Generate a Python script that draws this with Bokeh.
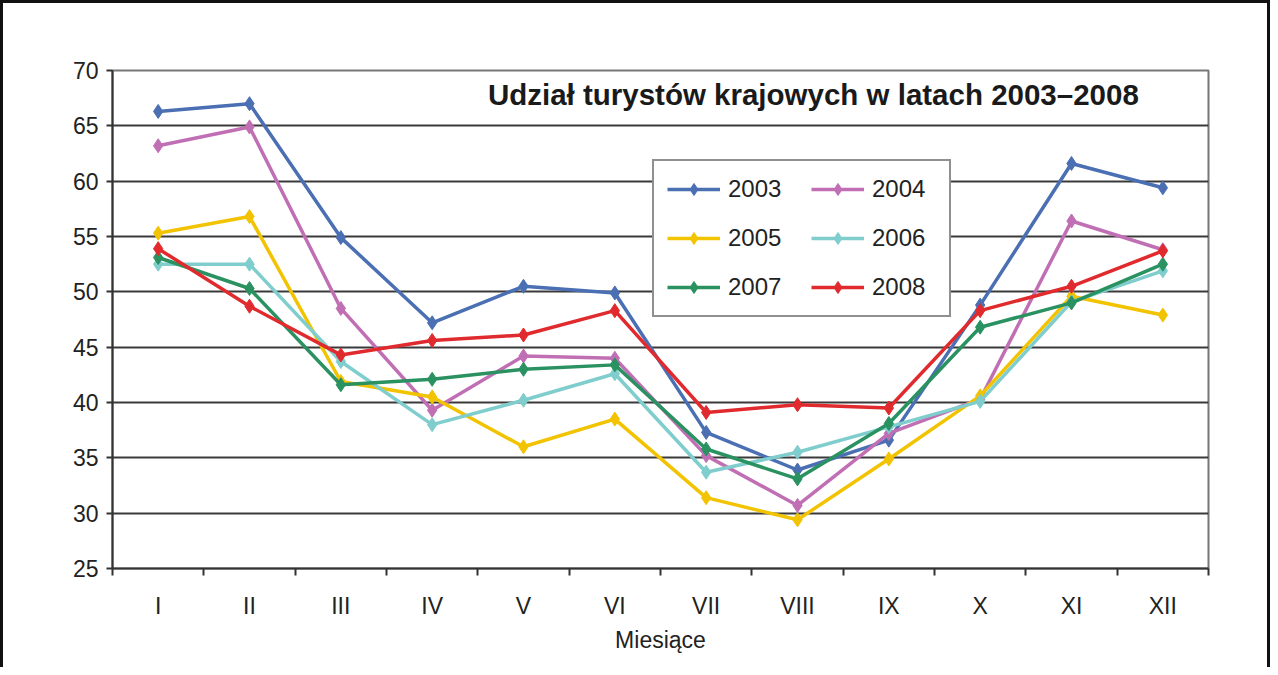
from bokeh.plotting import figure
from bokeh.models import FixedTicker, Legend, LegendItem, Label, Range1d
from bokeh.embed import file_html
from bokeh.resources import INLINE

months = ["I", "II", "III", "IV", "V", "VI", "VII", "VIII", "IX", "X", "XI", "XII"]
years = ["2003", "2004", "2005", "2006", "2007", "2008"]
v2003 = [66.3, 67.0, 54.9, 47.2, 50.5, 49.9, 37.3, 33.9, 36.6, 48.8, 61.6, 59.4]
v2004 = [63.2, 64.9, 48.5, 39.3, 44.2, 44.0, 35.2, 30.7, 37.2, 40.3, 56.4, 53.8]
v2005 = [55.3, 56.8, 41.9, 40.5, 36.0, 38.5, 31.4, 29.4, 34.9, 40.6, 49.6, 47.9]
v2006 = [52.5, 52.5, 43.7, 38.0, 40.2, 42.6, 33.7, 35.5, 37.8, 40.1, 49.1, 51.9]
v2007 = [53.1, 50.3, 41.6, 42.1, 43.0, 43.4, 35.8, 33.1, 38.1, 46.8, 49.0, 52.5]
v2008 = [53.9, 48.7, 44.3, 45.6, 46.1, 48.3, 39.1, 39.8, 39.5, 48.3, 50.5, 53.7]
series = [v2003, v2004, v2005, v2006, v2007, v2008]
colors = ["#4a6fb3", "#c16fb4", "#f2c300", "#7fcdcd", "#2a9161", "#e02a2e"]

title_text = "Udział turystów krajowych w latach 2003–2008"
x_title = "Miesiące"
y_ticks = [25, 30, 35, 40, 45, 50, 55, 60, 65, 70]

FONT = "Liberation Sans"

xs = [i + 0.5 for i in range(len(months))]

p = figure(width=1270, height=667, output_backend="svg", toolbar_location=None,
           x_range=Range1d(0, len(months)), y_range=Range1d(25, 70),
           min_border_left=109, min_border_right=65, min_border_top=67,
           min_border_bottom=102)
p.styles = {"border-left": "3px solid #111", "border-right": "3px solid #111",
            "border-top": "3px solid #111"}

# axes
p.xaxis.ticker = FixedTicker(ticks=xs, minor_ticks=list(range(len(months) + 1)))
p.xaxis.major_label_overrides = {x: m for x, m in zip(xs, months)}
p.xaxis.major_tick_out = 0
p.xaxis.major_tick_in = 0
p.xaxis.minor_tick_out = 7
p.xaxis.minor_tick_in = 0
p.xaxis.minor_tick_line_color = "#333333"
p.xaxis.minor_tick_line_width = 2
p.xaxis.major_label_standoff = 17
p.xaxis.axis_label = x_title
p.xaxis.axis_label_standoff = 5
p.xaxis.axis_label_text_font_style = "normal"

p.yaxis.ticker = FixedTicker(ticks=y_ticks)
p.yaxis.major_tick_out = 6
p.yaxis.major_tick_in = 0
p.yaxis.minor_tick_out = 0
p.yaxis.minor_tick_in = 0
p.yaxis.major_label_standoff = 8
p.yaxis.major_tick_line_width = 2
p.yaxis.major_tick_line_color = "#333333"

for ax in (p.xaxis, p.yaxis):
    ax.axis_line_color = "#333333"
    ax.axis_line_width = 2
    ax.major_label_text_font = FONT
    ax.major_label_text_font_size = "23px"
    ax.major_label_text_color = "#222222"
    ax.axis_label_text_font = FONT
    ax.axis_label_text_font_size = "23px"
    ax.axis_label_text_color = "#222222"

p.xgrid.grid_line_color = None
p.ygrid.ticker = FixedTicker(ticks=y_ticks)
p.ygrid.grid_line_color = "#3a3a3a"
p.ygrid.grid_line_width = 2
p.outline_line_color = "#777777"
p.outline_line_width = 2
p.background_fill_color = "white"
p.border_fill_color = "white"

items = {}
for yr, vals, c in zip(years, series, colors):
    r1 = p.line(xs, vals, line_color=c, line_width=3.5)
    r2 = p.scatter(xs, vals, marker="diamond", size=14, fill_color=c, line_color=c)
    items[yr] = LegendItem(label=yr, renderers=[r1, r2])

# legend is filled column by column: left column 2003/2005/2007, right 2004/2006/2008
order = years[0::2] + years[1::2]
legend = Legend(items=[items[y] for y in order], ncols=2, location=(540, 251),
                label_text_font=FONT, label_text_font_size="24px",
                label_text_color="#222222",
                glyph_width=53, glyph_height=30, label_height=30,
                label_width=64, label_standoff=8, spacing=19, padding=13,
                border_line_color="#222222", border_line_width=2,
                background_fill_color="white", background_fill_alpha=1.0,
                margin=0)
p.add_layout(legend, "center")

p.add_layout(Label(x=4.11, y=67.8, text=title_text, text_font=FONT,
                   text_font_size="29.5px", text_font_style="bold",
                   text_color="#1a1a1a", text_baseline="middle", text_align="left"))

open("out.html", "w").write(file_html(p, INLINE))
